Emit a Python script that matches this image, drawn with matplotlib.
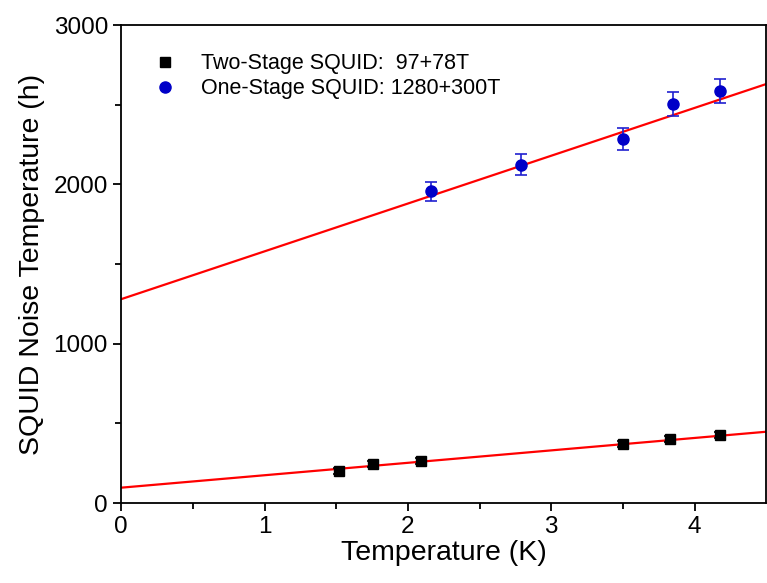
import numpy as np
import matplotlib
matplotlib.use("Agg")
import matplotlib.pyplot as plt

plt.rcParams['font.family'] = ['Liberation Sans', 'DejaVu Sans']

# two-stage SQUID data
t_two = [1.52, 1.76, 2.09, 3.50, 3.83, 4.18]
n_two = [201, 245, 264, 370, 402, 427]
e_two = [20, 20, 20, 20, 20, 20]

# one-stage SQUID data
t_one = [2.16, 2.79, 3.50, 3.85, 4.18]
n_one = [1958, 2122, 2285, 2505, 2586]
e_one = [60, 66, 69, 75, 78]

# linear fits
fit_two = (97, 78)
fit_one = (1280, 300)
t_fit = np.array([0, 4.5])

fig = plt.figure(figsize=(7.67, 5.83), dpi=100)
ax = fig.add_axes([0.158, 0.137, 0.841, 0.820])

ax.plot(t_fit, fit_two[0] + fit_two[1] * t_fit, color='red', lw=1.6, zorder=2)
ax.plot(t_fit, fit_one[0] + fit_one[1] * t_fit, color='red', lw=1.6, zorder=2)

ax.errorbar(t_two, n_two, yerr=e_two, fmt='none', ecolor='black',
            capsize=4, elinewidth=1.2, capthick=1.2, zorder=3)
ax.plot(t_two, n_two, 's', color='black', ms=7, zorder=4,
        label='Two-Stage SQUID:  97+78T')
ax.errorbar(t_one, n_one, yerr=e_one, fmt='none', ecolor='#2020d0',
            capsize=4, elinewidth=1.2, capthick=1.2, zorder=3)
ax.plot(t_one, n_one, 'o', color='#0000c8', ms=8, zorder=4,
        label='One-Stage SQUID: 1280+300T')

ax.set_xlim(0, 4.5)
ax.set_ylim(0, 3000)
ax.set_xticks([0, 1, 2, 3, 4])
ax.set_xticks(np.arange(0.5, 4.5, 1), minor=True)
ax.set_yticks([0, 1000, 2000, 3000])
ax.set_yticks([500, 1500, 2500], minor=True)
ax.tick_params(which='major', direction='out', length=6, width=1.3, labelsize=17.5)
ax.tick_params(which='minor', direction='out', length=4, width=1.3)
for s in ax.spines.values():
    s.set_linewidth(1.3)

ax.set_xlabel('Temperature (K)', fontsize=20.5, labelpad=1)
ax.set_ylabel('SQUID Noise Temperature (h)', fontsize=20.5, labelpad=6)

ax.legend(loc='upper left', frameon=False, fontsize=15.5, handletextpad=0.9,
          borderaxespad=0.9, labelspacing=0.2, handlelength=1.5)

fig.savefig('out.png', dpi=100)
